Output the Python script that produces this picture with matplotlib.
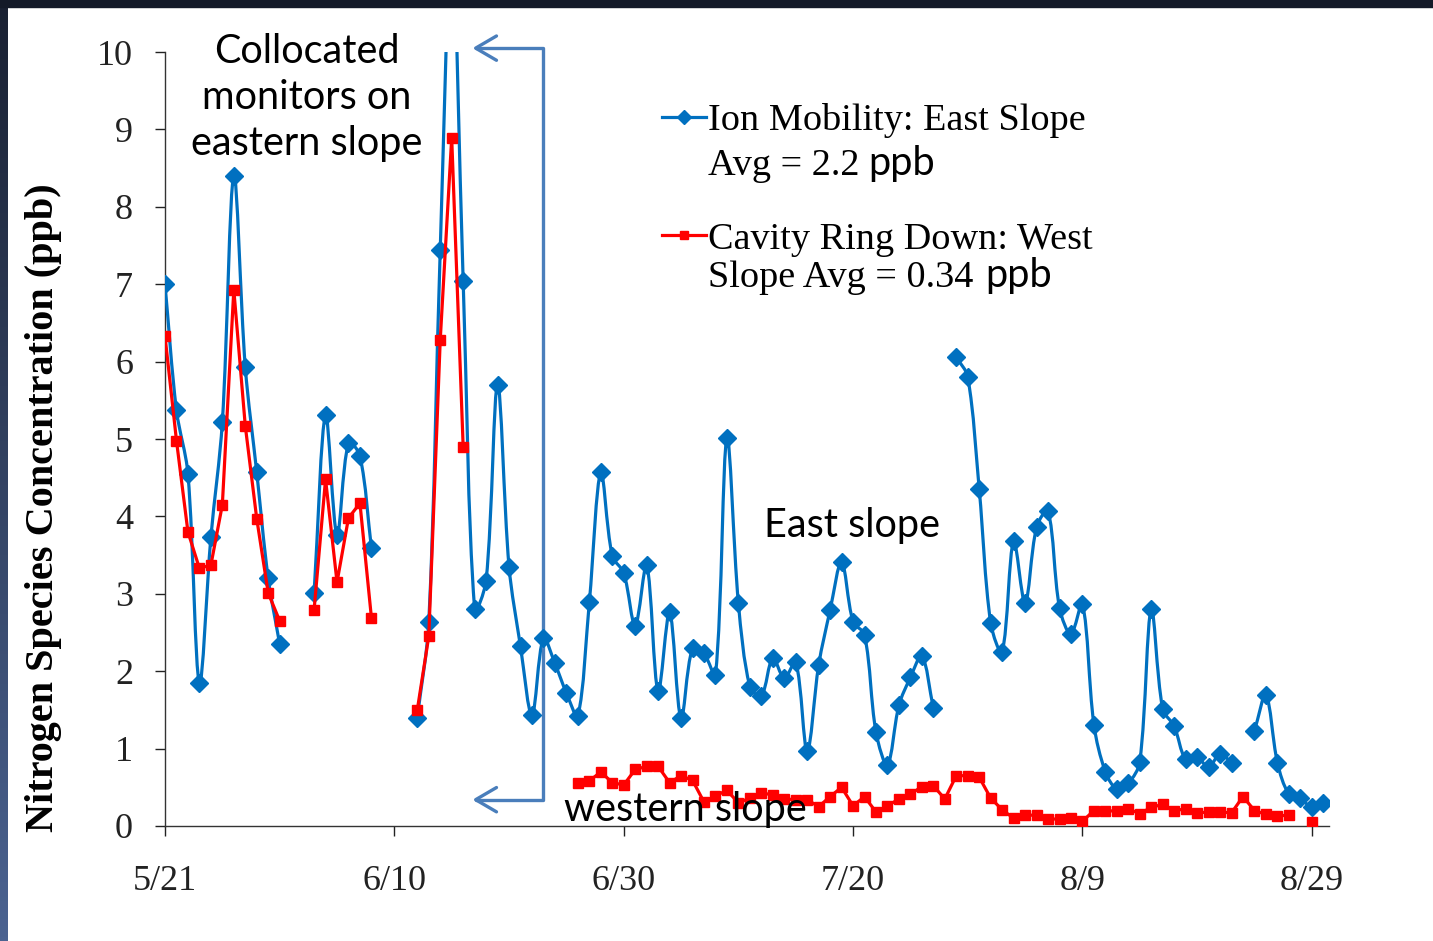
import numpy as np
import matplotlib
matplotlib.use('Agg')
import matplotlib.pyplot as plt
from matplotlib.path import Path
from matplotlib.patches import PathPatch, Rectangle
from matplotlib.lines import Line2D
from matplotlib.colors import LinearSegmentedColormap

nan = np.nan

# day index, 0 = 5/21
DAYS = np.arange(0, 102)

# Ion Mobility, east slope (ppb)
EAST = [7.00, 5.37, 4.55, 1.85, 3.73, 5.22, 8.40, 5.93, 4.57, 3.20,
        2.35, nan, nan, 3.01, 5.31, 3.76, 4.95, 4.78, 3.59, nan,
        nan, nan, 1.40, 2.63, 7.44, 11.5, 7.04, 2.80, 3.17, 5.70,
        3.35, 2.32, 1.43, 2.43, 2.10, 1.72, 1.42, 2.89, 4.57, 3.49,
        3.27, 2.59, 3.37, 1.74, 2.76, 1.39, 2.30, 2.23, 1.95, 5.01,
        2.88, 1.80, 1.68, 2.17, 1.91, 2.12, 0.97, 2.08, 2.79, 3.41,
        2.64, 2.47, 1.21, 0.79, 1.56, 1.92, 2.20, 1.52, nan, 6.06,
        5.80, 4.35, 2.62, 2.25, 3.68, 2.88, 3.86, 4.07, 2.82, 2.48,
        2.87, 1.31, 0.70, 0.48, 0.55, 0.83, 2.80, 1.51, 1.29, 0.86,
        0.89, 0.76, 0.93, 0.82, nan, 1.23, 1.69, 0.82, 0.41, 0.36,
        0.24, 0.30]

# Cavity Ring Down, west slope (ppb)
WEST = [6.33, 4.98, 3.80, 3.33, 3.37, 4.15, 6.93, 5.17, 3.97, 3.01,
        2.65, nan, nan, 2.79, 4.48, 3.15, 3.98, 4.17, 2.69, nan,
        nan, nan, 1.50, 2.45, 6.28, 8.89, 4.90, nan, nan, nan,
        nan, nan, nan, nan, nan, nan, 0.55, 0.58, 0.70, 0.56,
        0.53, 0.73, 0.77, 0.77, 0.56, 0.65, 0.59, 0.31, 0.39, 0.46,
        0.30, 0.36, 0.43, 0.40, 0.35, 0.34, 0.34, 0.25, 0.38, 0.50,
        0.26, 0.38, 0.18, 0.26, 0.35, 0.41, 0.51, 0.52, 0.35, 0.65,
        0.65, 0.63, 0.36, 0.21, 0.10, 0.14, 0.14, 0.09, 0.09, 0.10,
        0.06, 0.20, 0.20, 0.19, 0.22, 0.16, 0.24, 0.28, 0.20, 0.22,
        0.17, 0.18, 0.18, 0.17, 0.38, 0.20, 0.15, 0.13, 0.14, nan,
        0.05, nan]

TICK_DAYS = [0, 20, 40, 60, 80, 100]
TICK_LABELS = ['5/21', '6/10', '6/30', '7/20', '8/9', '8/29']

BLUE = '#0070C0'
RED = '#FF0000'
ARROW = '#4A7EBB'
SERIF = 'Liberation Serif'
SANS = 'Lato'

W, H = 1433, 941
AX_W, AX_H = 1164, 774
XMAX = 101.5


def smooth_path(x, y, sx, sy):
    # excel style smoothed line: bezier per run of valid points,
    # tangents scaled by neighbouring segment lengths (screen units)
    verts, codes = [], []
    ok = ~np.isnan(y)
    i, n = 0, len(y)
    while i < n:
        if not ok[i]:
            i += 1
            continue
        j = i
        while j + 1 < n and ok[j + 1]:
            j += 1
        xs, ys = x[i:j + 1], y[i:j + 1]
        m = len(xs)
        P = np.column_stack([xs * sx, ys * sy])
        tang = []
        for k in range(m):
            a, b = max(k - 1, 0), min(k + 1, m - 1)
            d0 = np.hypot(*(P[k] - P[a]))
            d1 = np.hypot(*(P[b] - P[k]))
            tot = d0 + d1 if d0 + d1 > 0 else 1.0
            tang.append(((P[b] - P[a]) / 3.0, d0 / tot, d1 / tot))
        verts.append((xs[0], ys[0]))
        codes.append(Path.MOVETO)
        for k in range(m - 1):
            t0, _, f1 = tang[k]
            t1, g0, _ = tang[k + 1]
            c1 = P[k] + t0 * f1
            c2 = P[k + 1] - t1 * g0
            verts += [(c1[0] / sx, c1[1] / sy), (c2[0] / sx, c2[1] / sy),
                      (xs[k + 1], ys[k + 1])]
            codes += [Path.CURVE4] * 3
        i = j + 1
    return Path(verts, codes)


fig = plt.figure(figsize=(W / 100, H / 100), dpi=100)
fig.patch.set_facecolor('white')

# slide frame: dark bar on top, gradient strip on the left
fig.add_artist(Rectangle((0, 1 - 7 / H), 1, 7 / H, transform=fig.transFigure,
                         color='#141a28', zorder=10))
gax = fig.add_axes([0, 0, 8 / W, 1])
grad = np.linspace(0, 1, 256).reshape(-1, 1)
gax.imshow(grad, aspect='auto',
           cmap=LinearSegmentedColormap.from_list('frame', ['#1a2132', '#4b6391']))
gax.axis('off')

ax = fig.add_axes([165 / W, 1 - 826 / H, AX_W / W, AX_H / H])

east = np.array(EAST, dtype=float)
west = np.array(WEST, dtype=float)
x = DAYS.astype(float)

# east slope: smoothed line + diamonds
ax.add_patch(PathPatch(smooth_path(x, east, AX_W / XMAX, AX_H / 10.0),
                       facecolor='none', edgecolor=BLUE, lw=2.3, zorder=3,
                       capstyle='round', joinstyle='round'))
ax.plot(x, east, ls='none', marker='D', ms=9, color=BLUE, zorder=4)

# west slope: straight line + squares
ax.plot(x, west, color=RED, lw=2.3, marker='s', ms=6.5, zorder=5)

ax.set_xlim(0, XMAX)
ax.set_ylim(0, 10)
ax.set_xticks(TICK_DAYS)
ax.set_xticklabels(TICK_LABELS)
ax.set_yticks(range(0, 11))
for lab in ax.get_xticklabels() + ax.get_yticklabels():
    lab.set_family(SERIF)
    lab.set_fontsize(26)
ax.tick_params(axis='x', direction='out', length=7, width=1, pad=21, colors='#222222')
ax.tick_params(axis='y', direction='out', length=7, width=1, pad=16, colors='#222222')
for s in ['top', 'right']:
    ax.spines[s].set_visible(False)
for s in ['left', 'bottom']:
    ax.spines[s].set_color('#333333')
    ax.spines[s].set_linewidth(1.0)

fig.text(44 / W, 1 - 508 / H, 'Nitrogen Species Concentration (ppb)', rotation=90,
         ha='center', va='center', family=SERIF, fontweight='bold', fontsize=29)

# legend (first lines), second lines added as text
handles = [Line2D([], [], color=BLUE, lw=2.3, marker='D', ms=7),
           Line2D([], [], color=RED, lw=2.3, marker='s', ms=5.5)]
leg = ax.legend(handles, ['Ion Mobility: East Slope', 'Cavity Ring Down: West'],
                loc='upper left', bbox_to_anchor=((662 - 165) / AX_W, (826 - 103) / AX_H),
                frameon=False, prop={'family': SERIF, 'size': 27.5},
                handlelength=1.15, handletextpad=0.05, labelspacing=2.2,
                borderpad=0, borderaxespad=0)

ax.text((708 - 165) / AX_W, (826 - 175) / AX_H, 'Avg = 2.2', transform=ax.transAxes,
        family=SERIF, fontsize=27.5, va='baseline', ha='left')
ax.text((868 - 165) / AX_W, (826 - 175) / AX_H, 'ppb', transform=ax.transAxes,
        family=SANS, fontsize=28.5, va='baseline', ha='left')
ax.text((708 - 165) / AX_W, (826 - 287) / AX_H, 'Slope Avg = 0.34', transform=ax.transAxes,
        family=SERIF, fontsize=27.5, va='baseline', ha='left')
ax.text((985 - 165) / AX_W, (826 - 287) / AX_H, 'ppb', transform=ax.transAxes,
        family=SANS, fontsize=28.5, va='baseline', ha='left')

# annotations
ax.text((307 - 165) / AX_W, (826 - 97) / AX_H, 'Collocated\nmonitors on\neastern slope',
        transform=ax.transAxes, ha='center', va='center', family=SANS, fontsize=28.5,
        linespacing=1.3, zorder=6)
ax.text((852 - 165) / AX_W, (826 - 525) / AX_H, 'East slope', transform=ax.transAxes,
        ha='center', va='center', family=SANS, fontsize=28.5, zorder=6)
ax.text((685 - 165) / AX_W, (826 - 810) / AX_H, 'western slope', transform=ax.transAxes,
        ha='center', va='center', family=SANS, fontsize=28.5, zorder=6)

# bracket with arrows pointing back at the collocated period
ax.annotate('', xy=(26.8, 10.05), xytext=(26.8, 0.34), annotation_clip=False,
            arrowprops=dict(arrowstyle='<->,head_length=0.6,head_width=0.35',
                            connectionstyle='bar,armA=0,armB=0,fraction=0.094',
                            color=ARROW, lw=2.4, shrinkA=0, shrinkB=0,
                            mutation_scale=25))

fig.savefig('out.png', dpi=100)
